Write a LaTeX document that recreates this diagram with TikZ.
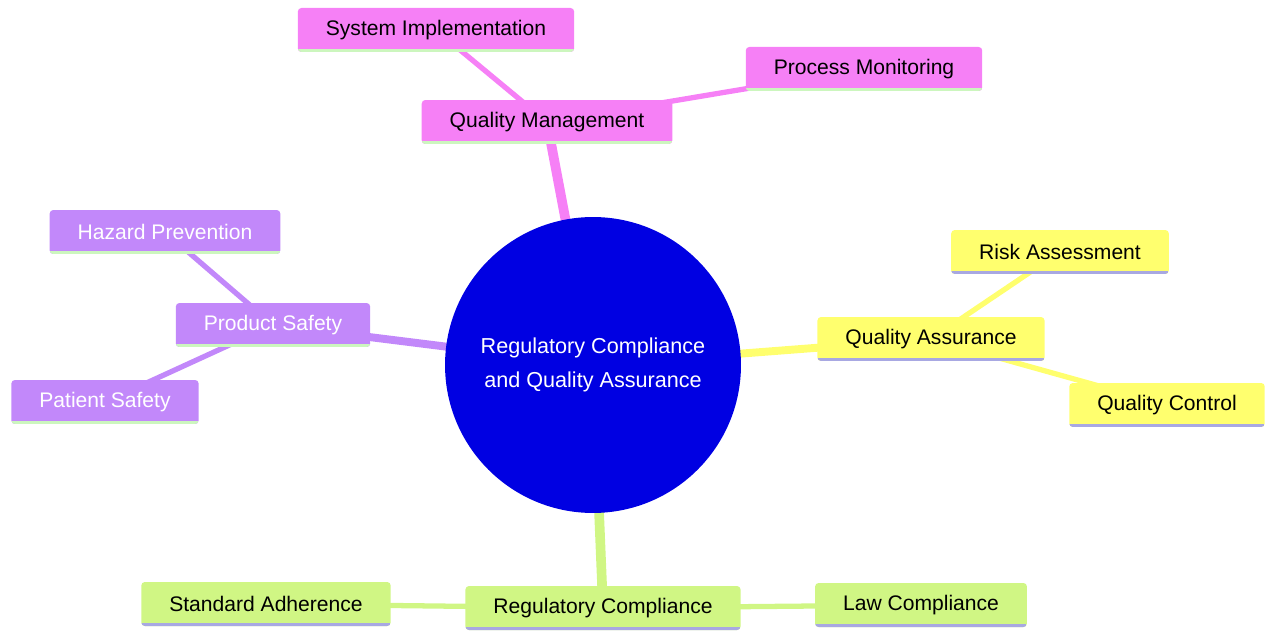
\documentclass[tikz,border=0pt]{standalone}
\usepackage{fontspec}
\setmainfont{Liberation Sans}
\usetikzlibrary{backgrounds}
\definecolor{pinkq}{RGB}{246,128,246}
\definecolor{purpq}{RGB}{194,136,250}
\definecolor{yelq}{RGB}{255,255,110}
\definecolor{grnq}{RGB}{208,246,132}
\definecolor{lavq}{RGB}{168,168,226}
\definecolor{mintq}{RGB}{204,246,190}
\definecolor{rootq}{RGB}{0,0,226}
\tikzset{
  leaf/.style 2 args={rectangle, rounded corners=2pt, fill=#1, minimum height=0.88cm,
    inner xsep=0.56cm, font=\fontsize{12}{14}\selectfont,
    path picture={\draw[line width=3pt,#2] (path picture bounding box.south west) -- (path picture bounding box.south east);}},
  link/.style={line width=#1, line cap=butt}
}
\begin{document}
\begin{tikzpicture}[x=0.02cm,y=-0.02cm]
\useasboundingbox (0,0) rectangle (1266,631);
\node[circle, fill=rootq, minimum size=5.92cm, text=white, align=center, font=\fontsize{12.3}{19}\selectfont] (root) at (593,365) {Regulatory Compliance\\and Quality Assurance};

\node[leaf={pinkq}{mintq}] (qm) at (547,122) {Quality Management};
\node[leaf={pinkq}{mintq}] (si) at (436,30) {System Implementation};
\node[leaf={pinkq}{mintq}] (pm) at (864,69) {Process Monitoring};

\node[leaf={purpq}{mintq}, text=white] (ps) at (273,325) {Product Safety};
\node[leaf={purpq}{mintq}, text=white] (hp) at (165,232) {Hazard Prevention};
\node[leaf={purpq}{mintq}, text=white] (pa) at (105,402) {Patient Safety};

\node[leaf={yelq}{lavq}] (qa) at (931,339) {Quality Assurance};
\node[leaf={yelq}{lavq}] (ra) at (1060,252) {Risk Assessment};
\node[leaf={yelq}{lavq}] (qc) at (1167,405) {Quality Control};

\node[leaf={grnq}{lavq}] (rc) at (603,608) {Regulatory Compliance};
\node[leaf={grnq}{lavq}] (sa) at (266,604) {Standard Adherence};
\node[leaf={grnq}{lavq}] (lc) at (921,605) {Law Compliance};

\begin{pgfonlayer}{background}
\draw[link=5.5pt, pinkq] (root.center) -- (qm.center);
\draw[link=3pt, pinkq] (qm.center) -- (si.center);
\draw[link=3pt, pinkq] (qm.center) -- (pm.center);
\draw[link=4.5pt, purpq] (root.center) -- (ps.center);
\draw[link=3pt, purpq] (ps.center) -- (hp.center);
\draw[link=3pt, purpq] (ps.center) -- (pa.center);
\draw[link=4.5pt, yelq] (root.center) -- (qa.center);
\draw[link=3pt, yelq] (qa.center) -- (ra.center);
\draw[link=3pt, yelq] (qa.center) -- (qc.center);
\draw[link=5.5pt, grnq] (root.center) -- (rc.center);
\draw[link=3pt, grnq] (rc.center) -- (sa.center);
\draw[link=3pt, grnq] (rc.center) -- (lc.center);
\end{pgfonlayer}
\end{tikzpicture}
\end{document}
